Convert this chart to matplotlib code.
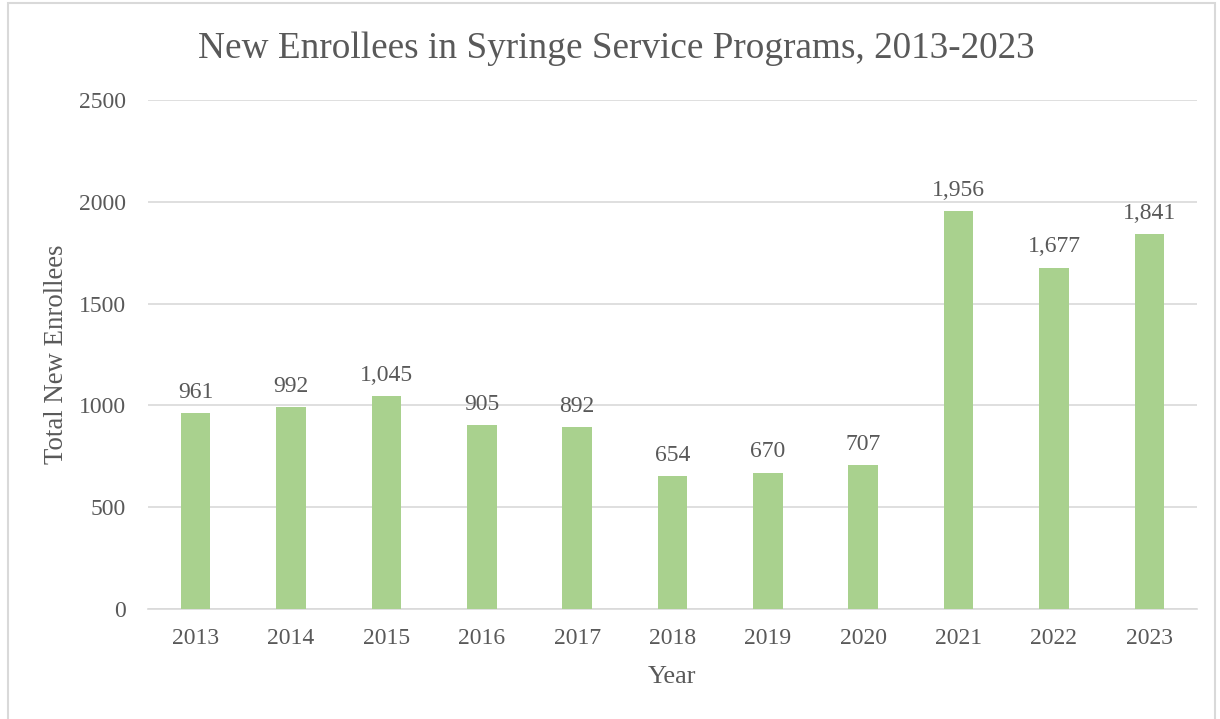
import numpy as np
import matplotlib.pyplot as plt
from matplotlib.patches import Rectangle

years = ["2013", "2014", "2015", "2016", "2017", "2018", "2019", "2020", "2021", "2022", "2023"]
enrollees = [961, 992, 1045, 905, 892, 654, 670, 707, 1956, 1677, 1841]
yticks = [0, 500, 1000, 1500, 2000, 2500]

plt.rcParams['font.family'] = ['Liberation Serif', 'DejaVu Serif']
txt = '#595959'

fig = plt.figure(figsize=(12.2, 7.19), dpi=100)
ax = fig.add_axes([148/1220, 1 - 609/719, (1197 - 148)/1220, (609 - 100)/719])

x = np.arange(len(years))
bars = ax.bar(x, enrollees, width=0.31, color='#A9D18E', zorder=3)
for xi, v in zip(x, enrollees):
    ax.text(xi, v + 50, f"{v:,}", ha='center', va='bottom', fontsize=17, color=txt)

ax.set_xlim(-0.5, len(years) - 0.5)
ax.set_ylim(0, 2500)
ax.set_yticks(yticks)
ax.set_xticks(x)
ax.set_xticklabels(years)
ax.tick_params(axis='both', length=0, labelsize=17, labelcolor=txt)
ax.tick_params(axis='y', pad=16)
ax.tick_params(axis='x', pad=14)
ax.grid(axis='y', color='#D9D9D9', linewidth=1.2, zorder=0)
for s in ['top', 'right', 'left']:
    ax.spines[s].set_visible(False)
ax.spines['bottom'].set_color('#D9D9D9')
ax.spines['bottom'].set_linewidth(1.2)

ax.set_xlabel("Year", fontsize=19, color=txt, labelpad=12)
ax.set_ylabel("Total New Enrollees", fontsize=19.3, color=txt, labelpad=7)
fig.text(0.505, 1 - 49/719, "New Enrollees in Syringe Service Programs, 2013-2023",
         ha='center', va='center', fontsize=26.8, color=txt)

fig.patches.append(Rectangle((8/1220, -0.01), (1215 - 8)/1220, 1 - 3/719 + 0.01,
                             transform=fig.transFigure, fill=False,
                             edgecolor='#D9D9D9', linewidth=1.5))

fig.savefig("out.png", dpi=100)
